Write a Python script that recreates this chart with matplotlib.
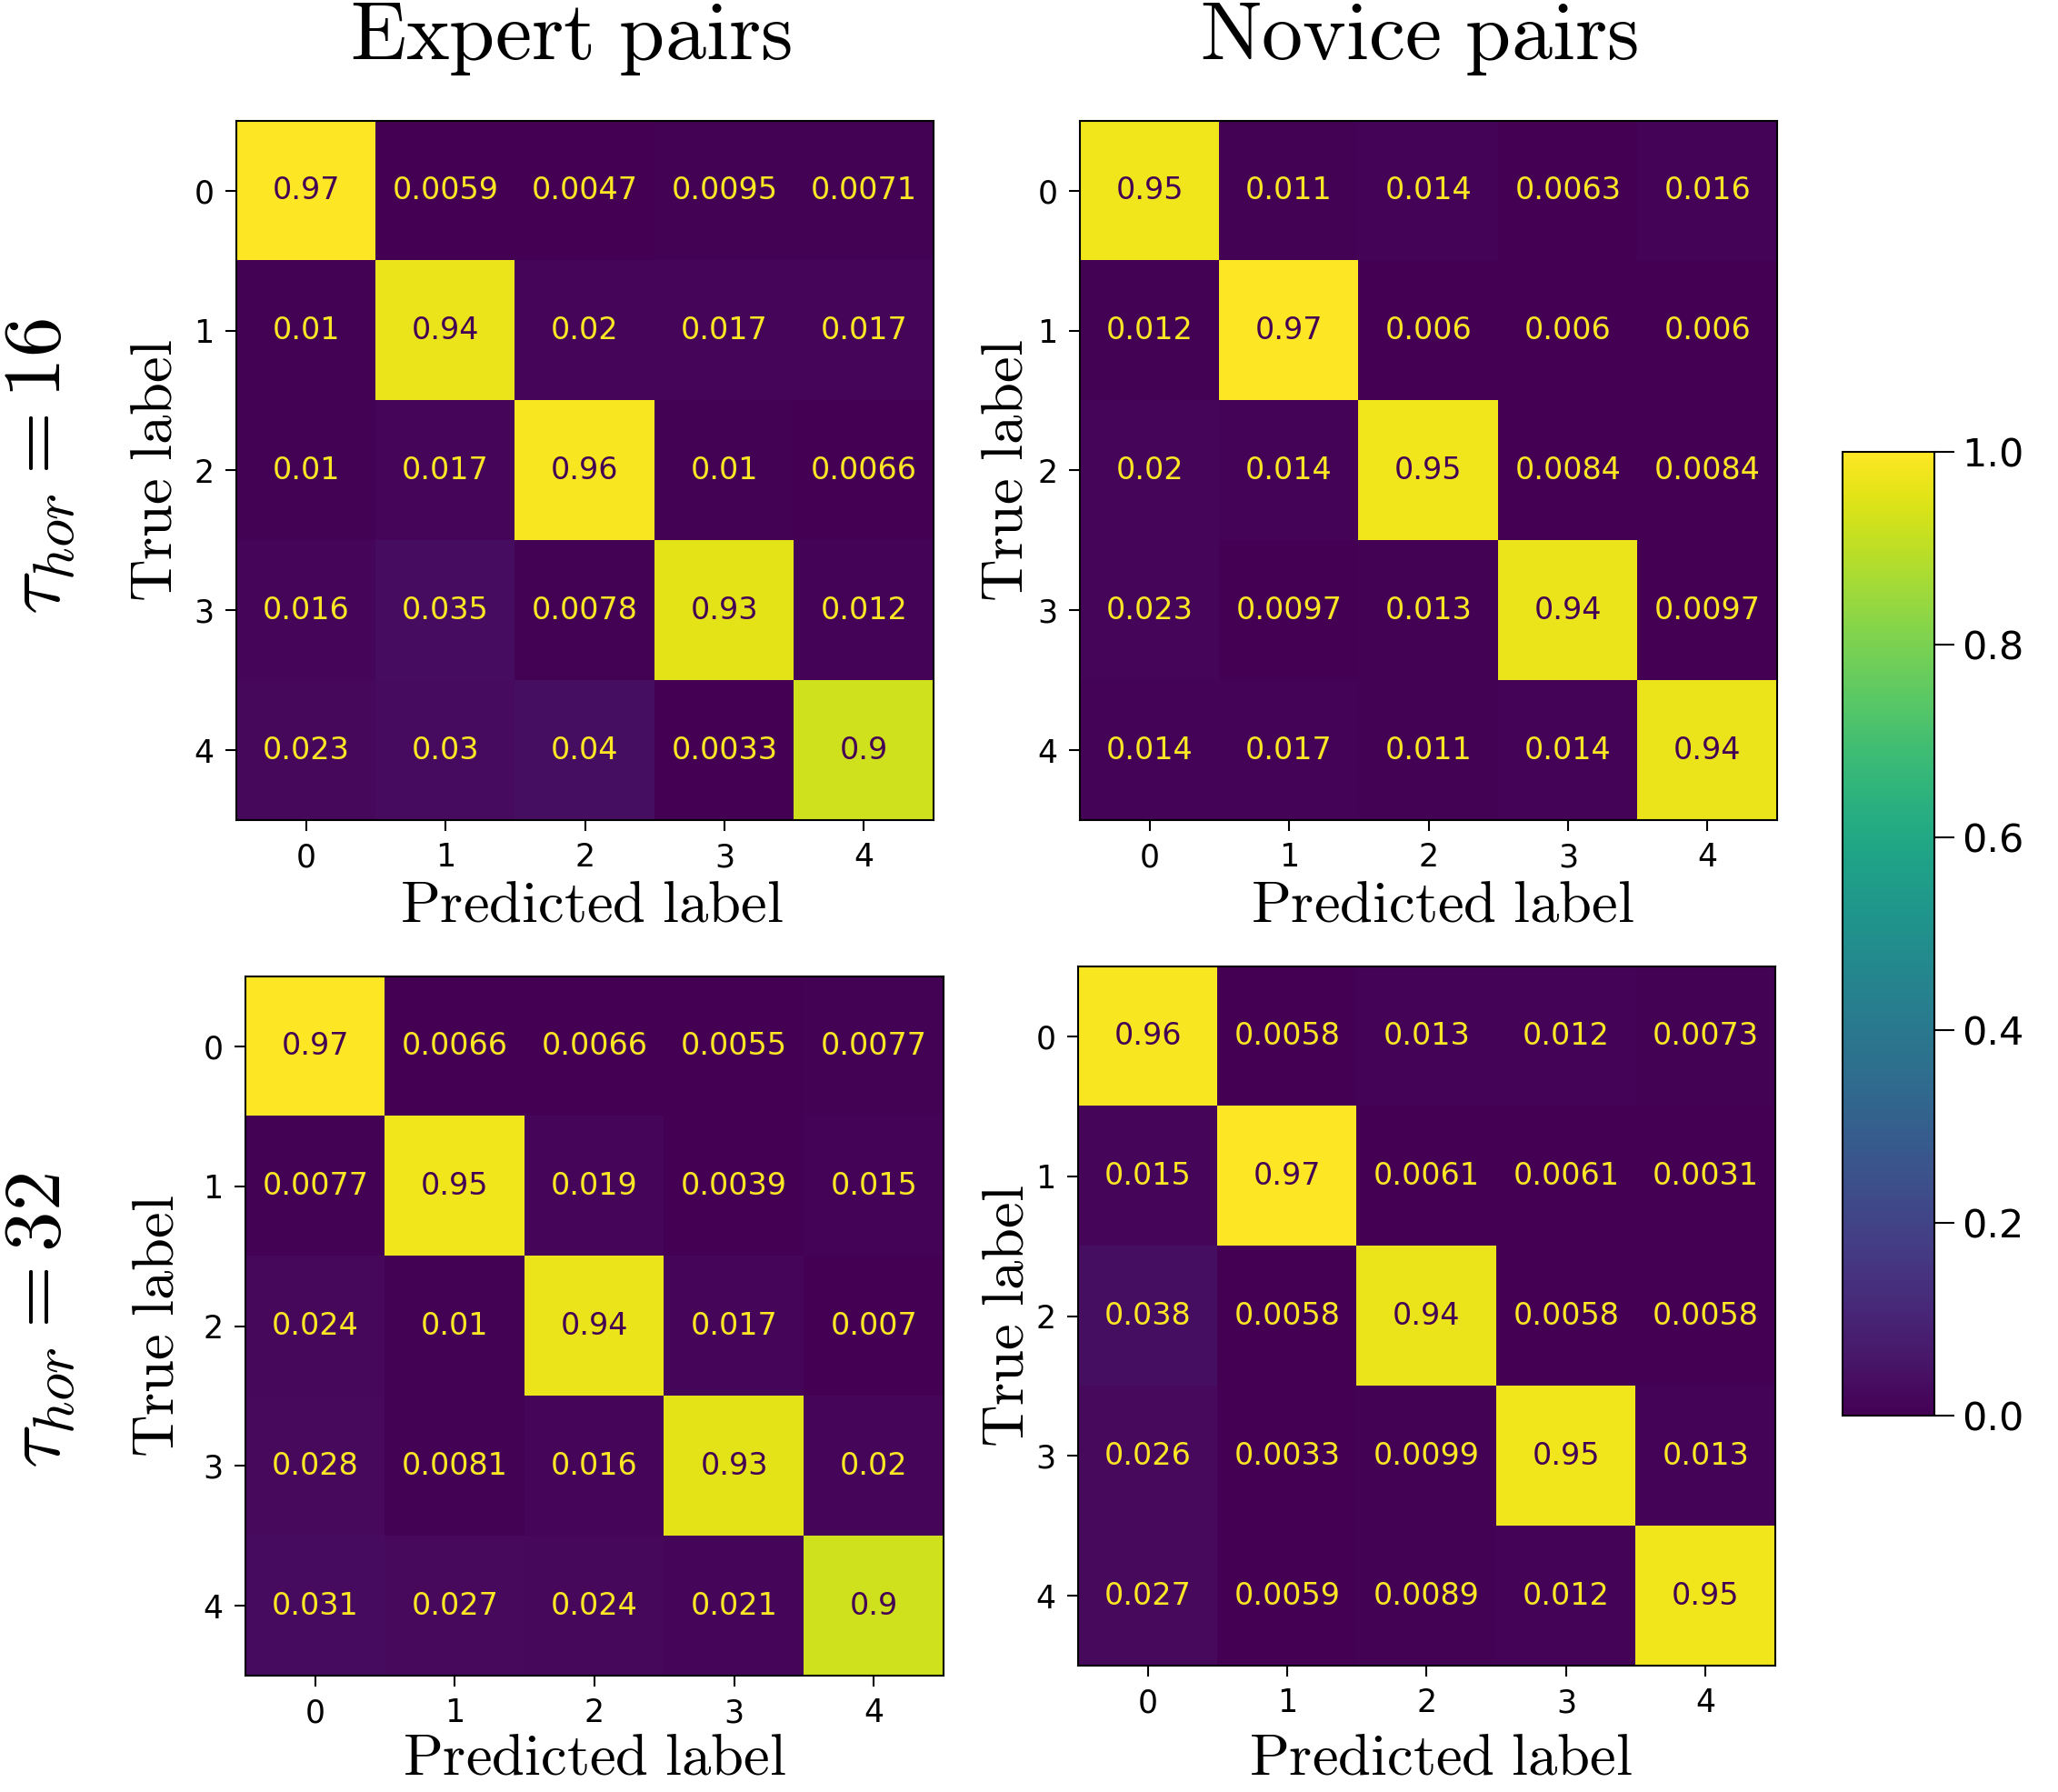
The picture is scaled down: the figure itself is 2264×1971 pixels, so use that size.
import numpy as np
import matplotlib
matplotlib.use('Agg')
import matplotlib.pyplot as plt
from matplotlib.cm import ScalarMappable
from matplotlib.colors import Normalize

plt.rcParams['mathtext.fontset'] = 'cm'

classes = ['0', '1', '2', '3', '4']

# normalised confusion matrices (rows = true label, cols = predicted label)
expert_16 = [[0.97, 0.0059, 0.0047, 0.0095, 0.0071],
             [0.01, 0.94, 0.02, 0.017, 0.017],
             [0.01, 0.017, 0.96, 0.01, 0.0066],
             [0.016, 0.035, 0.0078, 0.93, 0.012],
             [0.023, 0.03, 0.04, 0.0033, 0.9]]

novice_16 = [[0.95, 0.011, 0.014, 0.0063, 0.016],
             [0.012, 0.97, 0.006, 0.006, 0.006],
             [0.02, 0.014, 0.95, 0.0084, 0.0084],
             [0.023, 0.0097, 0.013, 0.94, 0.0097],
             [0.014, 0.017, 0.011, 0.014, 0.94]]

expert_32 = [[0.97, 0.0066, 0.0066, 0.0055, 0.0077],
             [0.0077, 0.95, 0.019, 0.0039, 0.015],
             [0.024, 0.01, 0.94, 0.017, 0.007],
             [0.028, 0.0081, 0.016, 0.93, 0.02],
             [0.031, 0.027, 0.024, 0.021, 0.9]]

novice_32 = [[0.96, 0.0058, 0.013, 0.012, 0.0073],
             [0.015, 0.97, 0.0061, 0.0061, 0.0031],
             [0.038, 0.0058, 0.94, 0.0058, 0.0058],
             [0.026, 0.0033, 0.0099, 0.95, 0.013],
             [0.027, 0.0059, 0.0089, 0.012, 0.95]]

col_titles = ['Expert pairs', 'Novice pairs']
row_titles = ['16', '32']

W, H = 2264, 1971
fig = plt.figure(figsize=(W / 100, H / 100), dpi=100)


def px_rect(x0, y0, x1, y1):
    return [x0 / W, 1 - y1 / H, (x1 - x0) / W, (y1 - y0) / H]


# matrix, axes rect, ylabel x, xlabel y, xlabel x (axes fractions)
panels = [
    (expert_16, px_rect(260, 133, 1027, 902), -0.075, -0.080, 0.51),
    (novice_16, px_rect(1188, 133, 1955, 902), -0.064, -0.080, 0.52),
    (expert_32, px_rect(270, 1074, 1038, 1843), -0.085, -0.076, 0.50),
    (novice_32, px_rect(1186, 1063, 1953, 1832), -0.061, -0.090, 0.52),
]

cmap = plt.get_cmap('viridis')
for cm, rect, ylx, xly, xlx in panels:
    cm = np.array(cm)
    ax = fig.add_axes(rect)
    ax.imshow(cm, cmap=cmap, aspect='auto', interpolation='nearest')
    thresh = (cm.max() + cm.min()) / 2.0
    for i in range(cm.shape[0]):
        for j in range(cm.shape[1]):
            color = cmap(0.0) if cm[i, j] >= thresh else cmap(1.0)
            ax.text(j, i, format(cm[i, j], '.2g'), ha='center', va='center',
                    color=color, fontsize=24)
    ax.set_xticks(range(len(classes)))
    ax.set_yticks(range(len(classes)))
    ax.set_xticklabels(classes)
    ax.set_yticklabels(classes)
    ax.tick_params(labelsize=25, length=8.5, width=1.5, pad=9)
    for s in ax.spines.values():
        s.set_linewidth(1.5)
    ax.set_xlabel(r'$\mathrm{Predicted\ label}$', fontsize=46.5)
    ax.set_ylabel(r'$\mathrm{True\ label}$', fontsize=46.5)
    ax.xaxis.set_label_coords(xlx, xly)
    ax.yaxis.set_label_coords(ylx, 0.5)

# column titles
fig.text(628 / W, 1 - 65 / H, r'$\mathrm{%s}$' % col_titles[0].replace(' ', r'\ '),
         ha='center', va='baseline', fontsize=65)
fig.text(1561 / W, 1 - 65 / H, r'$\mathrm{%s}$' % col_titles[1].replace(' ', r'\ '),
         ha='center', va='baseline', fontsize=65)

# row titles
fig.text(42 / W, 1 - 513 / H, r'$\tau_{hor} = %s$' % row_titles[0],
         rotation=90, ha='center', va='center', fontsize=64)
fig.text(42 / W, 1 - 1452 / H, r'$\tau_{hor} = %s$' % row_titles[1],
         rotation=90, ha='center', va='center', fontsize=64)

# shared colourbar
cax = fig.add_axes(px_rect(2027, 497, 2128, 1557))
cb = fig.colorbar(ScalarMappable(norm=Normalize(0, 1), cmap=cmap), cax=cax)
cb.set_ticks([0.0, 0.2, 0.4, 0.6, 0.8, 1.0])
cb.ax.tick_params(labelsize=31, length=16, width=1.5, pad=6)
cb.outline.set_linewidth(1.5)

fig.savefig('out.png', dpi=100)
